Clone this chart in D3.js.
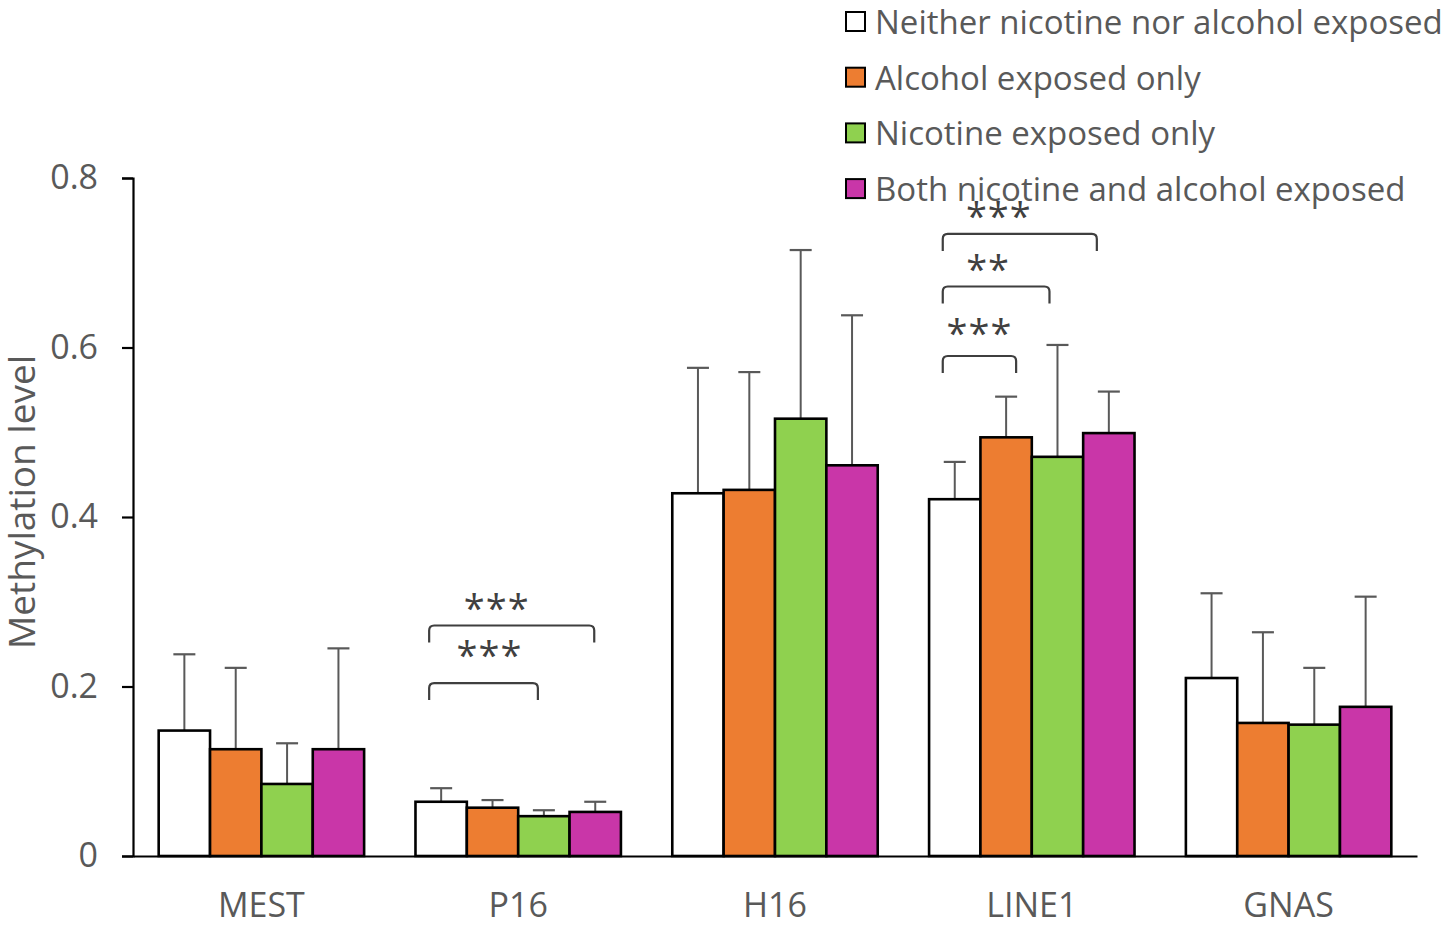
<!DOCTYPE html>
<html>
<head>
<meta charset="utf-8">
<script src="https://cdn.jsdelivr.net/npm/d3@7"></script>
<style>
  body { margin: 0; background: #fff; }
  svg { font-family: "Open Sans", "Noto Sans", sans-serif; }
</style>
</head>
<body>
<div id="graf"></div>
<script>
// datos
genes = ['MEST', 'P16', 'H16', 'LINE1', 'GNAS']
grupos = ['Neither nicotine nor alcohol exposed', 'Alcohol exposed only',
          'Nicotine exposed only', 'Both nicotine and alcohol exposed']
colores = ['#ffffff', '#ed7d31', '#8fd14f', '#c936a8']

// medias por grupo (una lista por gen, en el orden de grupos)
mediaMEST  = [0.148, 0.126, 0.085, 0.126]
mediaP16   = [0.064, 0.057, 0.047, 0.052]
mediaH16   = [0.428, 0.432, 0.516, 0.461]
mediaLINE1 = [0.421, 0.494, 0.471, 0.499]
mediaGNAS  = [0.210, 0.157, 0.155, 0.176]

// extremo superior de la barra de error
errMEST  = [0.238, 0.222, 0.133, 0.245]
errP16   = [0.080, 0.066, 0.054, 0.064]
errH16   = [0.576, 0.571, 0.715, 0.638]
errLINE1 = [0.465, 0.542, 0.603, 0.548]
errGNAS  = [0.310, 0.264, 0.222, 0.306]

yTicks = [0, 0.2, 0.4, 0.6, 0.8]

// comparaciones significativas: gen, grupo inicial, grupo final, nivel del corchete, nivel del texto, etiqueta
sigGen        = ['P16', 'P16', 'LINE1', 'LINE1', 'LINE1']
sigDesde      = [0, 0, 0, 0, 0]
sigHasta      = [3, 2, 3, 2, 1]
sigNivel      = [0.272, 0.204, 0.734, 0.672, 0.590]
sigNivelTexto = [0.300, 0.244, 0.762, 0.700, 0.624]
sigTexto      = ['***', '***', '***', '**', '***']

// ajustes finos de dibujo (px) para los corchetes
ajusteFin   = [-1, -6, -12, -8, 10]
ajusteTexto = [-15, 6, -21, -8, 0]

medias = [mediaMEST, mediaP16, mediaH16, mediaLINE1, mediaGNAS]
errores = [errMEST, errP16, errH16, errLINE1, errGNAS]

dataArray = []
genes.forEach((g, i) => {
  grupos.forEach((s, j) => {
    dataArray.push({ gen: g, grupo: s, idx: j, media: medias[i][j], err: errores[i][j] })
  })
})

// Configuracion de tamano
ancho_total = 1445
alto_total = 925

svg = d3.select('#graf').append('svg')
        .attr('width', ancho_total)
        .attr('height', alto_total)

// escalas
x = d3.scaleBand()
      .domain(genes)
      .range([133, 1417])
      .paddingInner(0.2)
      .paddingOuter(0.1)

x1 = d3.scaleBand()
       .domain(grupos)
       .range([0, x.bandwidth()])

y = d3.scaleLinear()
      .domain([0, 0.8])
      .range([856, 178])

color = d3.scaleOrdinal()
          .domain(grupos)
          .range(colores)

gris = '#595959'

// eje y
yAxisGroup = svg.append('g')
  .attr('transform', 'translate(133, 0)')
  .call(d3.axisLeft(y).tickValues(yTicks).tickSize(11).tickPadding(24)
          .tickFormat(d => d === 0 ? '0' : d3.format('.1f')(d)))
yAxisGroup.select('.domain').attr('stroke', '#000').attr('stroke-width', 2.2)
yAxisGroup.selectAll('.tick line').attr('stroke', '#000').attr('stroke-width', 2.2)
yAxisGroup.selectAll('.tick text')
  .attr('fill', gris)
  .style('font-size', '34px')
  .style('font-family', '"Open Sans", sans-serif')

svg.append('text')
  .attr('transform', `translate(35, ${ y(0.4) - 15 }) rotate(-90)`)
  .attr('text-anchor', 'middle')
  .attr('fill', gris)
  .style('font-size', '37px')
  .text('Methylation level')

// barras de error (debajo de las barras)
gErr = svg.append('g')
gErr.selectAll('line.err')
  .data(dataArray)
  .enter().append('line')
    .attr('class', 'err')
    .attr('x1', d => x(d.gen) + x1(d.grupo) + x1.bandwidth() / 2)
    .attr('x2', d => x(d.gen) + x1(d.grupo) + x1.bandwidth() / 2)
    .attr('y1', d => y(d.media))
    .attr('y2', d => y(d.err))
    .attr('stroke', gris)
    .attr('stroke-width', 2)
gErr.selectAll('line.cap')
  .data(dataArray)
  .enter().append('line')
    .attr('class', 'cap')
    .attr('x1', d => x(d.gen) + x1(d.grupo) + x1.bandwidth() / 2 - 11)
    .attr('x2', d => x(d.gen) + x1(d.grupo) + x1.bandwidth() / 2 + 11)
    .attr('y1', d => y(d.err))
    .attr('y2', d => y(d.err))
    .attr('stroke', gris)
    .attr('stroke-width', 2.2)

// barras
svg.append('g').selectAll('rect')
  .data(dataArray)
  .enter().append('rect')
    .attr('x', d => x(d.gen) + x1(d.grupo))
    .attr('y', d => y(d.media))
    .attr('width', x1.bandwidth())
    .attr('height', d => y(0) - y(d.media))
    .attr('fill', d => color(d.grupo))
    .attr('stroke', '#000')
    .attr('stroke-width', 2.6)

// eje x
xAxisGroup = svg.append('g')
  .attr('transform', `translate(0, ${ y(0) })`)
  .call(d3.axisBottom(x).tickSize(0).tickPadding(37))
xAxisGroup.select('.domain').attr('stroke', '#000').attr('stroke-width', 2.2)
xAxisGroup.selectAll('.tick text')
  .attr('fill', gris)
  .style('font-size', '34px')
  .style('font-family', '"Open Sans", sans-serif')

// corchetes de significancia
centro = (g, j) => x(g) + x1(grupos[j]) + x1.bandwidth() / 2
sigGen.forEach((g, k) => {
  x0 = centro(g, sigDesde[k]) - 12
  xf = centro(g, sigHasta[k]) + ajusteFin[k]
  yb = y(sigNivel[k])
  r = 5
  caida = 17
  svg.append('path')
    .attr('d', `M${x0},${yb + caida} L${x0},${yb + r} Q${x0},${yb} ${x0 + r},${yb}
                L${xf - r},${yb} Q${xf},${yb} ${xf},${yb + r} L${xf},${yb + caida}`)
    .attr('fill', 'none')
    .attr('stroke', '#3f3f3f')
    .attr('stroke-width', 2.2)
  svg.append('text')
    .attr('x', (x0 + xf) / 2 + ajusteTexto[k])
    .attr('y', y(sigNivelTexto[k]) + 20)
    .attr('text-anchor', 'middle')
    .attr('fill', '#404040')
    .style('font-size', '38px')
    .style('letter-spacing', '1px')
    .text(sigTexto[k])
})

// leyenda
leyenda = svg.append('g')
grupos.forEach((s, j) => {
  yl = 22 + j * 55.7
  leyenda.append('rect')
    .attr('x', 846)
    .attr('y', yl - 10)
    .attr('width', 19)
    .attr('height', 19)
    .attr('fill', color(s))
    .attr('stroke', '#000')
    .attr('stroke-width', 2)
  leyenda.append('text')
    .attr('x', 875)
    .attr('y', yl)
    .attr('dy', '0.36em')
    .attr('fill', gris)
    .style('font-size', '33px')
    .text(s)
})
</script>
</body>
</html>
